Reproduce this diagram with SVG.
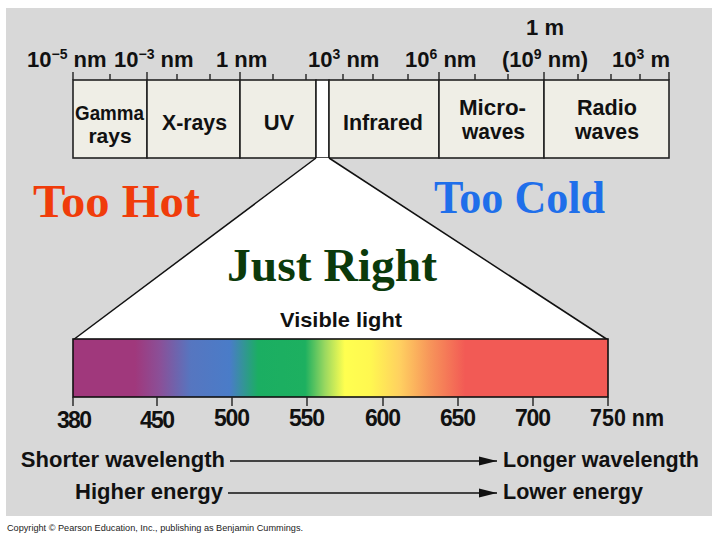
<svg xmlns="http://www.w3.org/2000/svg" width="720" height="540" viewBox="0 0 720 540">
<style>
.sans{font-family:"Liberation Sans",Arial,sans-serif;font-weight:bold;fill:#111}
.serif{font-family:"Liberation Serif","Times New Roman",serif;font-weight:bold}
.band{fill:#EFEEE6;stroke:#222;stroke-width:1.6}
.ln{stroke:#111;stroke-width:1.5;fill:none}
.tick{stroke:#222;stroke-width:1.4}
</style>
<defs>
<linearGradient id="spec" x1="0" y1="0" x2="1" y2="0">
<stop offset="0" stop-color="#A0387C"/>
<stop offset="0.116" stop-color="#A0387C"/>
<stop offset="0.163" stop-color="#8A5098"/>
<stop offset="0.22" stop-color="#5676C0"/>
<stop offset="0.293" stop-color="#4A7CC8"/>
<stop offset="0.346" stop-color="#1BAE62"/>
<stop offset="0.434" stop-color="#1DB060"/>
<stop offset="0.471" stop-color="#9AD860"/>
<stop offset="0.508" stop-color="#FFFF50"/>
<stop offset="0.555" stop-color="#FFF850"/>
<stop offset="0.611" stop-color="#FFD060"/>
<stop offset="0.667" stop-color="#F7955A"/>
<stop offset="0.733" stop-color="#F25A55"/>
<stop offset="1" stop-color="#F25A55"/>
</linearGradient>
<marker id="arr" viewBox="0 0 18 10" refX="18" refY="5" markerWidth="18" markerHeight="10" markerUnits="userSpaceOnUse" orient="auto">
<path d="M0,0.5 L18,5 L0,9.5 Z" fill="#111"/>
</marker>
</defs>
<rect x="0" y="0" width="720" height="540" fill="#FFFFFF"/>
<rect x="6" y="8" width="706" height="508" fill="#D8D8D8"/>

<g id="scale-top">
<g class="tick">
<line x1="110" y1="74" x2="110" y2="80"/>
<line x1="177" y1="74" x2="177" y2="80"/>
<line x1="210" y1="74" x2="210" y2="80"/>
<line x1="273" y1="74" x2="273" y2="80"/>
<line x1="306" y1="74" x2="306" y2="80"/>
<line x1="343" y1="74" x2="343" y2="80"/>
<line x1="373" y1="74" x2="373" y2="80"/>
<line x1="408" y1="74" x2="408" y2="80"/>
<line x1="475" y1="74" x2="475" y2="80"/>
<line x1="508" y1="74" x2="508" y2="80"/>
<line x1="578" y1="74" x2="578" y2="80"/>
<line x1="611" y1="74" x2="611" y2="80"/>
<line x1="640" y1="74" x2="640" y2="80"/>
<line x1="73" y1="72" x2="73" y2="80"/>
<line x1="147" y1="72" x2="147" y2="80"/>
<line x1="240" y1="72" x2="240" y2="80"/>
<line x1="439" y1="72" x2="439" y2="80"/>
<line x1="544" y1="72" x2="544" y2="80"/>
<line x1="669" y1="72" x2="669" y2="80"/>
</g>
<text class="sans" font-size="22" x="27" y="67">10<tspan font-size="14" dy="-8">−5</tspan><tspan dy="8"> nm</tspan></text>
<text class="sans" font-size="22" x="114" y="67">10<tspan font-size="14" dy="-8">−3</tspan><tspan dy="8"> nm</tspan></text>
<text class="sans" font-size="22" x="216" y="67">1 nm</text>
<text class="sans" font-size="22" x="308" y="67">10<tspan font-size="14" dy="-8">3</tspan><tspan dy="8"> nm</tspan></text>
<text class="sans" font-size="22" x="405" y="67">10<tspan font-size="14" dy="-8">6</tspan><tspan dy="8"> nm</tspan></text>
<text class="sans" font-size="22" x="545" y="35" text-anchor="middle">1 m</text>
<text class="sans" font-size="22" x="502" y="67">(10<tspan font-size="14" dy="-8">9</tspan><tspan dy="8"> nm)</tspan></text>
<text class="sans" font-size="22" x="612" y="67">10<tspan font-size="14" dy="-8">3</tspan><tspan dy="8"> m</tspan></text>
</g>

<g id="band-gamma">
<rect class="band" x="73" y="80" width="74" height="78"/>
<text class="sans" font-size="21" x="75" y="120" textLength="69" lengthAdjust="spacingAndGlyphs">Gamma</text>
<text class="sans" font-size="21" x="110" y="143" text-anchor="middle">rays</text>
</g>
<g id="band-xrays">
<rect class="band" x="147" y="80" width="93" height="78"/>
<text class="sans" font-size="22" x="162" y="130" textLength="65" lengthAdjust="spacingAndGlyphs">X-rays</text>
</g>
<g id="band-uv">
<rect class="band" x="240" y="80" width="76" height="78"/>
<text class="sans" font-size="22" x="279" y="130" text-anchor="middle">UV</text>
</g>
<g id="band-visible">
<rect x="316" y="80" width="13" height="78" fill="#FFFFFF" stroke="#222" stroke-width="1.6"/>
</g>
<g id="band-infrared">
<rect class="band" x="329" y="80" width="110" height="78"/>
<text class="sans" font-size="22" x="343" y="130" textLength="80" lengthAdjust="spacingAndGlyphs">Infrared</text>
</g>
<g id="band-microwaves">
<rect class="band" x="439" y="80" width="105" height="78"/>
<text class="sans" font-size="22" x="459" y="115" textLength="67" lengthAdjust="spacingAndGlyphs">Micro-</text>
<text class="sans" font-size="22" x="462" y="139" textLength="63" lengthAdjust="spacingAndGlyphs">waves</text>
</g>
<g id="band-radio">
<rect class="band" x="544" y="80" width="125" height="78"/>
<text class="sans" font-size="22" x="577" y="115" textLength="60" lengthAdjust="spacingAndGlyphs">Radio</text>
<text class="sans" font-size="22" x="575" y="139" textLength="64" lengthAdjust="spacingAndGlyphs">waves</text>
</g>

<g id="zoom-wedge">
<polygon points="316,158 329,158 608,340 73,340" fill="#FFFFFF"/>
<line class="ln" x1="316" y1="158" x2="73" y2="340"/>
<line class="ln" x1="329" y1="158" x2="608" y2="340"/>
<text class="sans" font-size="21" x="341" y="327" text-anchor="middle" textLength="122" lengthAdjust="spacingAndGlyphs">Visible light</text>
</g>

<g id="labels-comfort">
<text class="serif" font-size="46" x="33" y="217" fill="#F03C0A" textLength="167" lengthAdjust="spacingAndGlyphs">Too Hot</text>
<text class="serif" font-size="46" x="434" y="213" fill="#1F6FEA" textLength="171" lengthAdjust="spacingAndGlyphs">Too Cold</text>
<text class="serif" font-size="46" x="227" y="281" fill="#0B3A0B" textLength="210" lengthAdjust="spacingAndGlyphs">Just Right</text>
</g>

<g id="spectrum">
<rect x="73" y="339" width="535" height="58" fill="url(#spec)" stroke="#111" stroke-width="1.6"/>
<g class="tick">
<line x1="73" y1="397" x2="73" y2="406"/>
<line x1="157" y1="397" x2="157" y2="406"/>
<line x1="232" y1="397" x2="232" y2="406"/>
<line x1="307" y1="397" x2="307" y2="406"/>
<line x1="383" y1="397" x2="383" y2="406"/>
<line x1="458" y1="397" x2="458" y2="406"/>
<line x1="533" y1="397" x2="533" y2="406"/>
<line x1="608" y1="397" x2="608" y2="406"/>
</g>
<g class="sans" font-size="23" lengthAdjust="spacingAndGlyphs">
<text x="57" y="428" textLength="35">380</text>
<text x="140" y="428" textLength="35">450</text>
<text x="214" y="426" textLength="36">500</text>
<text x="289" y="426" textLength="36">550</text>
<text x="365" y="426" textLength="36">600</text>
<text x="440" y="426" textLength="36">650</text>
<text x="515" y="426" textLength="36">700</text>
</g>
<text class="sans" font-size="23" x="590" y="426" textLength="74" lengthAdjust="spacingAndGlyphs">750 nm</text>
</g>

<g id="connectors">
<line class="ln" x1="230" y1="461" x2="497" y2="461" marker-end="url(#arr)"/>
<line class="ln" x1="228" y1="493" x2="497" y2="493" marker-end="url(#arr)"/>
</g>

<g id="axis-labels">
<text class="sans" font-size="22" x="225" y="467" text-anchor="end">Shorter wavelength</text>
<text class="sans" font-size="22" x="503" y="467" textLength="196" lengthAdjust="spacingAndGlyphs">Longer wavelength</text>
<text class="sans" font-size="22" x="223" y="499" text-anchor="end">Higher energy</text>
<text class="sans" font-size="22" x="503" y="499" textLength="140" lengthAdjust="spacingAndGlyphs">Lower energy</text>
</g>

<text x="7" y="531" font-family="'Liberation Sans',Arial,sans-serif" font-size="9.5" fill="#222" textLength="296" lengthAdjust="spacingAndGlyphs">Copyright © Pearson Education, Inc., publishing as Benjamin Cummings.</text>
</svg>
